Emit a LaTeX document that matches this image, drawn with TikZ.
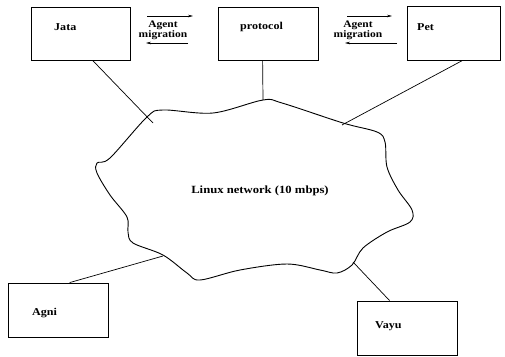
\documentclass[tikz,border=0pt]{standalone}
\usepackage{fontspec}
\setmainfont{Liberation Serif}
\newfontfamily\widefont[FakeStretch=1.15]{Liberation Serif}
\usetikzlibrary{arrows.meta}
\begin{document}
\begin{tikzpicture}[x=1pt,y=-1pt,
  box/.style={draw,line width=0.8pt,inner sep=0pt},
  lbl/.style={font=\widefont\bfseries\fontsize{10.5}{11}\selectfont,inner sep=0pt,anchor=west},
  mig/.style={font=\widefont\bfseries\fontsize{10}{7.8}\selectfont,inner sep=0pt,align=center},
  link/.style={line width=0.7pt},
  arr/.style={line width=0.6pt,-{Stealth[length=5pt,width=2.6pt]}}]
\useasboundingbox (0,0) rectangle (505,356);
% boxes
\node[box,minimum width=99pt,minimum height=53pt] (jata) at (80.5,33.5) {};
\node[box,minimum width=100pt,minimum height=53pt] (protocol) at (268,33.5) {};
\node[box,minimum width=93pt,minimum height=54pt] (pet) at (453.5,33) {};
\node[box,minimum width=100pt,minimum height=54pt] (agni) at (58,310) {};
\node[box,minimum width=100pt,minimum height=54pt] (vayu) at (407,328) {};
% labels
\node[lbl] (tjata) at (54,27) {Jata};
\node[lbl] (tprot) at (240,27) {protocol};
\node[lbl] (tpet) at (417,27) {Pet};
\node[lbl] (tagni) at (32,313) {Agni};
\node[lbl] (tvayu) at (375,326) {Vayu};
\node[font=\widefont\bfseries\fontsize{11}{12}\selectfont,inner sep=0pt] (tnet) at (260,191) {Linux network (10 mbps)};
% migration labels and arrows
\node[mig] (m1) at (163,30) {Agent\\migration};
\node[mig] (m2) at (358,30) {Agent\\migration};
\coordinate (a1s) at (147,16); \coordinate (a1e) at (193,16);
\coordinate (b1s) at (188,43); \coordinate (b1e) at (146,43);
\coordinate (a2s) at (347,16); \coordinate (a2e) at (392,16);
\coordinate (b2s) at (397,43); \coordinate (b2e) at (345,43);
\draw[arr] (a1s) -- (a1e);
\draw[arr] (b1s) -- (b1e);
\draw[arr] (a2s) -- (a2e);
\draw[arr] (b2s) -- (b2e);
% cloud
\draw[line width=0.9pt] plot[smooth cycle,tension=0.55] coordinates {
 (147,117) (163,110) (213,113) (263,100) (282,103) (343,123) (377,132)
 (385,142) (387,167) (398,190) (412,210) (410,222) (387,232) (363,248)
 (352,265) (337,273) (320,270) (287,264) (240,270) (200,280) (187,273)
 (163,255) (133,243) (128,232) (127,217) (110,195) (97,173) (97,163) (110,158)};
% connection points
\coordinate (cj) at (153,123);
\coordinate (cp) at (263,100);
\coordinate (cpe) at (342,125);
\coordinate (ca) at (163,256);
\coordinate (cv) at (353,262);
\draw[link] (jata.south west) ++(62,0) coordinate (sj) -- (cj);
\draw[link] (protocol.south west) ++(45,0) coordinate (sp) -- (cp);
\draw[link] (pet.south west) ++(56,0) coordinate (spe) -- (cpe);
\draw[link] (agni.north west) ++(62,0) coordinate (sa) -- (ca);
\draw[link] (vayu.north west) ++(33,0) coordinate (sv) -- (cv);
\end{tikzpicture}
\end{document}
